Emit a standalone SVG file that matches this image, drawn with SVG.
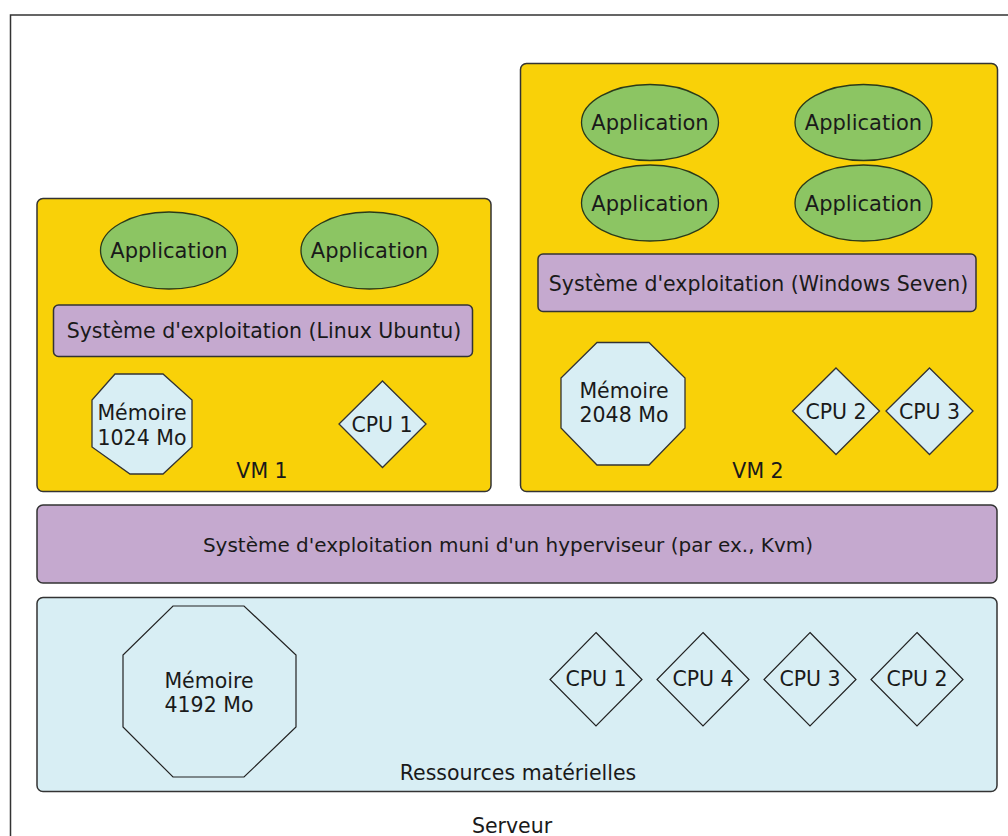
<svg xmlns="http://www.w3.org/2000/svg" width="1008" height="836" viewBox="0 0 1008 836">
<style>
text{font-family:"DejaVu Sans","Liberation Sans",sans-serif;font-size:20.5px;fill:#1a1a1a;text-anchor:middle}
.vm{fill:#F9D108;stroke:#333;stroke-width:1.5}
.os{fill:#C5A9CF;stroke:#333;stroke-width:1.5}
.hw{fill:#D8EEF4;stroke:#333;stroke-width:1.5}
.app{fill:#8CC563;stroke:#2a3a1a;stroke-width:1.3}
.res{fill:#D8EEF4;stroke:#333;stroke-width:1.3}
.hres{fill:none;stroke:#222;stroke-width:1.2}
</style>
<rect x="0" y="0" width="1008" height="836" fill="#fff"/>
<g id="serveur">
<rect x="10.5" y="15" width="1010" height="840" fill="#fff" stroke="#333" stroke-width="1.5"/>
<text x="512" y="833">Serveur</text>
</g>
<g id="vm1">
<rect class="vm" x="37" y="198.5" width="454" height="293" rx="6"/>
<text x="262" y="477.5">VM 1</text>
</g>
<g id="vm1-app1"><ellipse class="app" cx="169" cy="250.5" rx="68.5" ry="38.5"/><text x="169" y="258" style="font-size:21px">Application</text></g>
<g id="vm1-app2"><ellipse class="app" cx="369.5" cy="250.5" rx="68.5" ry="38.5"/><text x="369.5" y="258" style="font-size:21px">Application</text></g>
<g id="vm1-os"><rect class="os" x="53.5" y="305" width="419" height="51.5" rx="5"/><text x="264" y="338">Système d'exploitation (Linux Ubuntu)</text></g>
<g id="vm1-mem"><polygon class="res" points="115,374 163,374 192,400 192,447 163,474 130,474 92,447 92,400"/><text x="142" y="420">Mémoire</text><text x="142" y="444.5">1024 Mo</text></g>
<g id="vm1-cpu1"><polygon class="res" points="382.5,381 426,424 382.5,467.5 339,424"/><text x="382" y="432">CPU 1</text></g>
<g id="vm2">
<rect class="vm" x="520.5" y="63.5" width="477" height="428" rx="6"/>
<text x="758" y="478">VM 2</text>
</g>
<g id="vm2-app1"><ellipse class="app" cx="650" cy="122.5" rx="68.5" ry="38"/><text x="650" y="130" style="font-size:21px">Application</text></g>
<g id="vm2-app2"><ellipse class="app" cx="863.5" cy="122.5" rx="68.5" ry="38"/><text x="863.5" y="130" style="font-size:21px">Application</text></g>
<g id="vm2-app3"><ellipse class="app" cx="650" cy="203" rx="68.5" ry="38"/><text x="650" y="210.5" style="font-size:21px">Application</text></g>
<g id="vm2-app4"><ellipse class="app" cx="863.5" cy="203" rx="68.5" ry="38"/><text x="863.5" y="210.5" style="font-size:21px">Application</text></g>
<g id="vm2-os"><rect class="os" x="538" y="254" width="438" height="57.5" rx="5"/><text x="758.5" y="290.5">Système d'exploitation (Windows Seven)</text></g>
<g id="vm2-mem"><polygon class="res" points="597,342.5 649,342.5 685,378 685,428 649,465 597,465 561,428 561,378"/><text x="624" y="398">Mémoire</text><text x="624" y="422">2048 Mo</text></g>
<g id="vm2-cpu2"><polygon class="res" points="836,368 879.5,411 836,454.5 792.5,411"/><text x="836" y="418.5">CPU 2</text></g>
<g id="vm2-cpu3"><polygon class="res" points="929.5,368 973,411 929.5,454.5 886,411"/><text x="929.5" y="418.5">CPU 3</text></g>
<g id="hyperviseur"><rect class="os" x="37" y="505" width="960" height="78" rx="6"/><text x="508" y="551.5" style="font-size:20px">Système d'exploitation muni d'un hyperviseur (par ex., Kvm)</text></g>
<g id="materiel">
<rect class="hw" x="37" y="597.5" width="960" height="194" rx="6"/>
<text x="518" y="779.5">Ressources matérielles</text>
</g>
<g id="hw-mem"><polygon class="hres" points="173,606 244,606 296,655 296,727 244,777 173,777 123,727 123,655"/><text x="209" y="687.5">Mémoire</text><text x="209" y="711.5">4192 Mo</text></g>
<g id="hw-cpu1"><polygon class="hres" points="596,632.5 642,679.5 596,726 550,679.5"/><text x="596" y="686">CPU 1</text></g>
<g id="hw-cpu4"><polygon class="hres" points="703,632.5 749,679.5 703,726 657,679.5"/><text x="703" y="686">CPU 4</text></g>
<g id="hw-cpu3"><polygon class="hres" points="810,632.5 856,679.5 810,726 764,679.5"/><text x="810" y="686">CPU 3</text></g>
<g id="hw-cpu2"><polygon class="hres" points="917,632.5 963,679.5 917,726 871,679.5"/><text x="917" y="686">CPU 2</text></g>
<g id="connectors"></g>
</svg>
